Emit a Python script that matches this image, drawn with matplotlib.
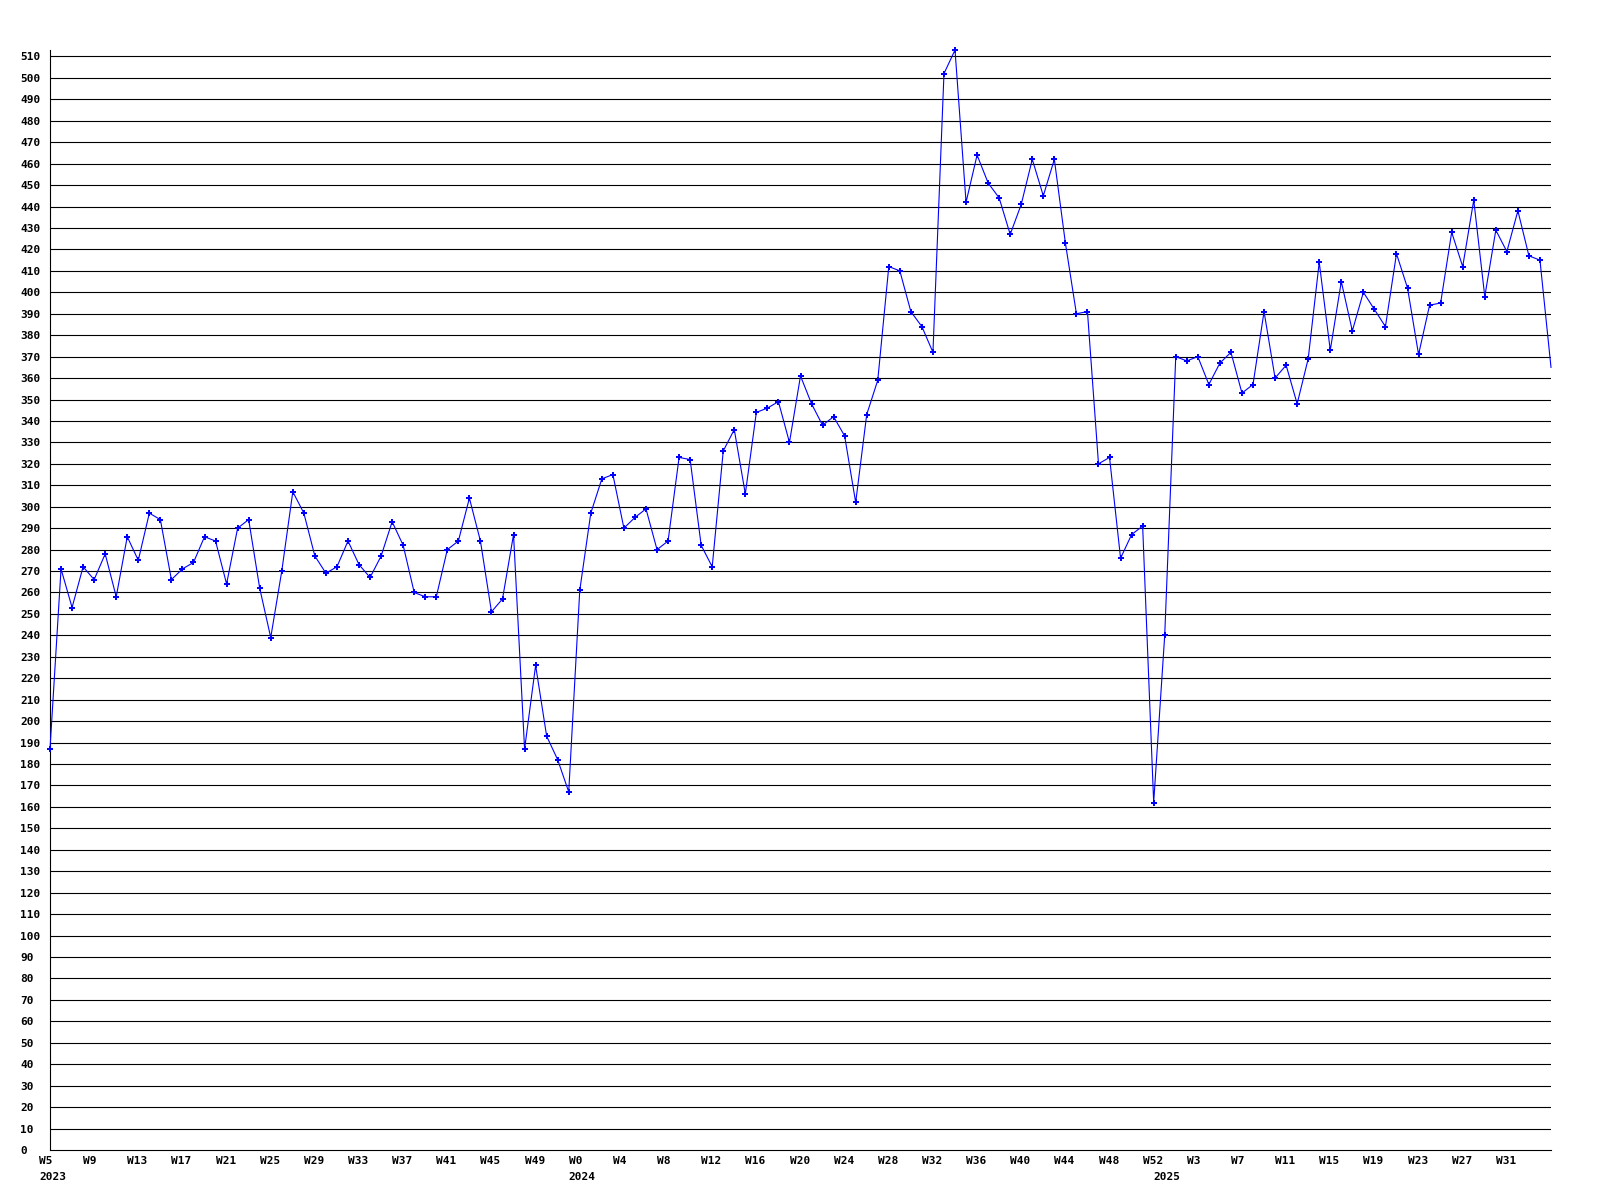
import matplotlib
matplotlib.use("Agg")
import matplotlib.pyplot as plt
import matplotlib.transforms as mtransforms

# ---- data (weekly values, 2023 W5 .. 2025 W35) ----
values = [
    187, 271, 253, 272, 266, 278, 258, 286, 275, 297,
    294, 266, 271, 274, 286, 284, 264, 290, 294, 262,
    239, 270, 307, 297, 277, 269, 272, 284, 273, 267,
    277, 293, 282, 260, 258, 258, 280, 284, 304, 284,
    251, 257, 287, 187, 226, 193, 182, 167, 261, 297,
    313, 315, 290, 295, 299, 280, 284, 323, 322, 282,
    272, 326, 336, 306, 344, 346, 349, 330, 361, 348,
    338, 342, 333, 302, 343, 359, 412, 410, 391, 384,
    372, 502, 513, 442, 464, 451, 444, 427, 441, 462,
    445, 462, 423, 390, 391, 320, 323, 276, 287, 291,
    162, 240, 370, 368, 370, 357, 367, 372, 353, 357,
    391, 360, 366, 348, 369, 414, 373, 405, 382, 400,
    392, 384, 418, 402, 371, 394, 395, 428, 412, 443,
    398, 429, 419, 438, 417, 415, 365,
]

week_labels = ["W5", "W9", "W13", "W17", "W21", "W25", "W29", "W33", "W37",
               "W41", "W45", "W49", "W0", "W4", "W8", "W12", "W16", "W20",
               "W24", "W28", "W32", "W36", "W40", "W44", "W48", "W52", "W3",
               "W7", "W11", "W15", "W19", "W23", "W27", "W31"]

year_labels = ["2023", "2024", "2025"]
year_start_index = [0, 48, 101]

y_ticks = list(range(0, 511, 10))

# ---- figure ----
W, H, DPI = 1600, 1200, 100
fig = plt.figure(figsize=(W / DPI, H / DPI), dpi=DPI)
left, right, bottom, top = 50, 1551, 1150, 50
ax = fig.add_axes([left / W, 1 - bottom / H, (right - left) / W, (bottom - top) / H])

font = dict(family="DejaVu Sans Mono", weight="bold", size=8)

x = list(range(len(values)))
ax.plot(x, values, color="#0000ff", linewidth=0.8, zorder=3,
        marker="P", markersize=3.8, markeredgewidth=0,
        markevery=slice(0, len(values) - 1), clip_on=False)

ax.set_xlim(0, len(values) - 1)
ax.set_ylim(0, 513)

for v in y_ticks[1:]:
    ax.axhline(v, color="black", linewidth=0.8, zorder=1)

for s in ["top", "right"]:
    ax.spines[s].set_visible(False)
for s in ["left", "bottom"]:
    ax.spines[s].set_color("black")
    ax.spines[s].set_linewidth(0.8)

# y ticks: left-aligned labels starting at x=20px
ax.set_yticks(y_ticks)
ax.set_yticklabels([str(v) for v in y_ticks], fontdict=font)
ax.tick_params(axis="y", length=0, pad=30 * 72 / DPI)
for lab in ax.get_yticklabels():
    lab.set_horizontalalignment("left")

# x ticks: left-aligned ~11px before tick position
tick_pos = list(range(0, len(values), 4))[:len(week_labels)]
ax.set_xticks(tick_pos)
ax.set_xticklabels(week_labels, fontdict=font)
ax.tick_params(axis="x", length=0, pad=4)
off = mtransforms.ScaledTranslation(-11 / DPI, 0, fig.dpi_scale_trans)
for lab in ax.get_xticklabels():
    lab.set_horizontalalignment("left")
    lab.set_transform(lab.get_transform() + off)

# year labels under week labels
trans = mtransforms.blended_transform_factory(ax.transData, ax.transAxes)
trans = trans + mtransforms.ScaledTranslation(-11 / DPI, -27 / DPI, fig.dpi_scale_trans)
for lbl, idx in zip(year_labels, year_start_index):
    ax.text(idx, 0, lbl, transform=trans, ha="left", va="center", **font)

fig.savefig("out.png", dpi=DPI)
